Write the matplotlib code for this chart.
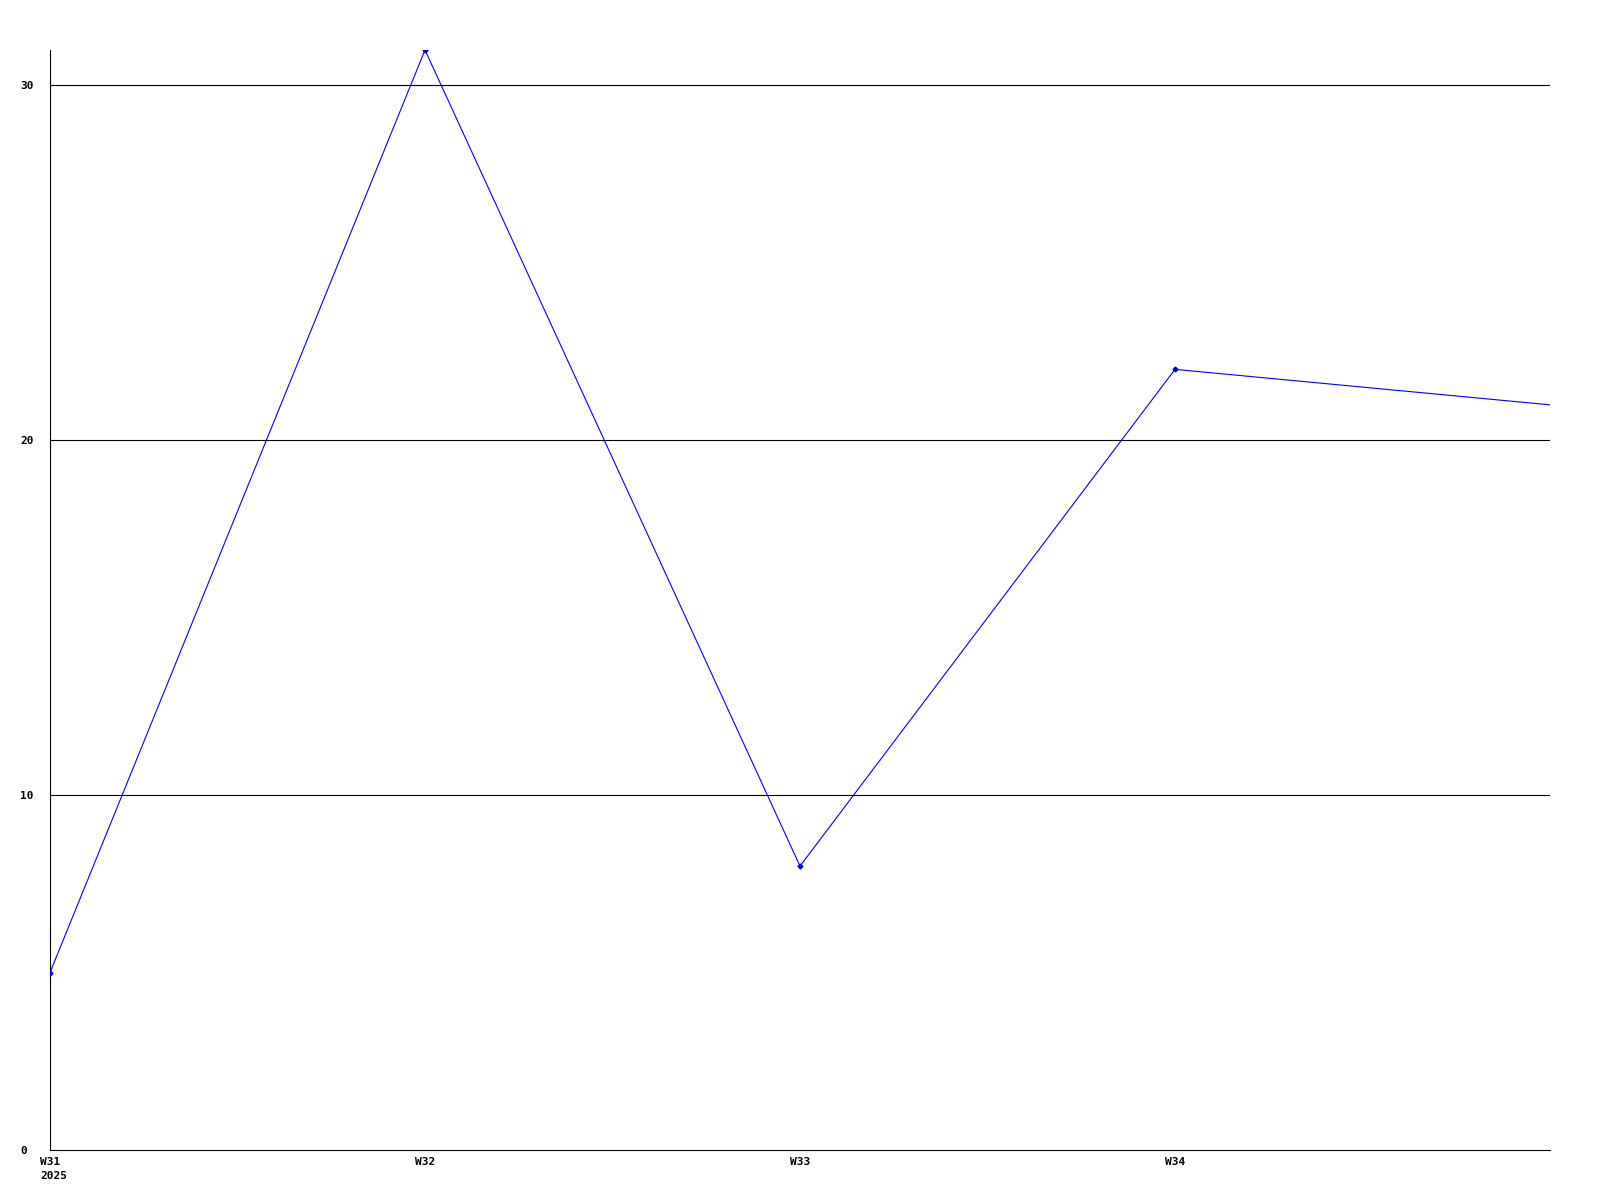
import matplotlib
matplotlib.use("Agg")
import matplotlib.pyplot as plt
import matplotlib.transforms as mtransforms

weeks = ["W31", "W32", "W33", "W34", "W35"]
values = [5, 31, 8, 22, 21]
tick_labels = ["W31\n2025", "W32", "W33", "W34"]
y_ticks = [0, 10, 20, 30]

fig = plt.figure(figsize=(16, 12), dpi=100)
ax = fig.add_axes([50/1600, 1 - 1150/1200, 1500/1600, 1100/1200])

x = list(range(len(weeks)))
ax.plot(x, values, color="#0000ff", linewidth=0.8, marker="D", markersize=2.5,
        markevery=[0, 1, 2, 3], clip_on=True, zorder=3)

ax.set_xlim(0, len(weeks) - 1)
ax.set_ylim(0, 31)

for yv in y_ticks[1:]:
    ax.axhline(yv, color="black", linewidth=0.8, zorder=1)

ax.spines["top"].set_visible(False)
ax.spines["right"].set_visible(False)
for s in ("left", "bottom"):
    ax.spines[s].set_color("black")
    ax.spines[s].set_linewidth(0.8)

font = dict(family="DejaVu Sans Mono", weight="bold", size=8)
ax.set_yticks(y_ticks)
ax.set_yticklabels([str(v) for v in y_ticks], **font)
ax.tick_params(axis="y", length=0, pad=21.6)
for lab in ax.get_yticklabels():
    lab.set_horizontalalignment("left")

ax.set_xticks(x[:4])
ax.set_xticklabels(tick_labels, multialignment="left", linespacing=1.45, **font)
ax.tick_params(axis="x", length=0, pad=5)
first = ax.get_xticklabels()[0]
first.set_horizontalalignment("left")
first.set_transform(first.get_transform() +
                    mtransforms.ScaledTranslation(-0.10, 0, fig.dpi_scale_trans))

fig.savefig("out.png", dpi=100, facecolor="white")
